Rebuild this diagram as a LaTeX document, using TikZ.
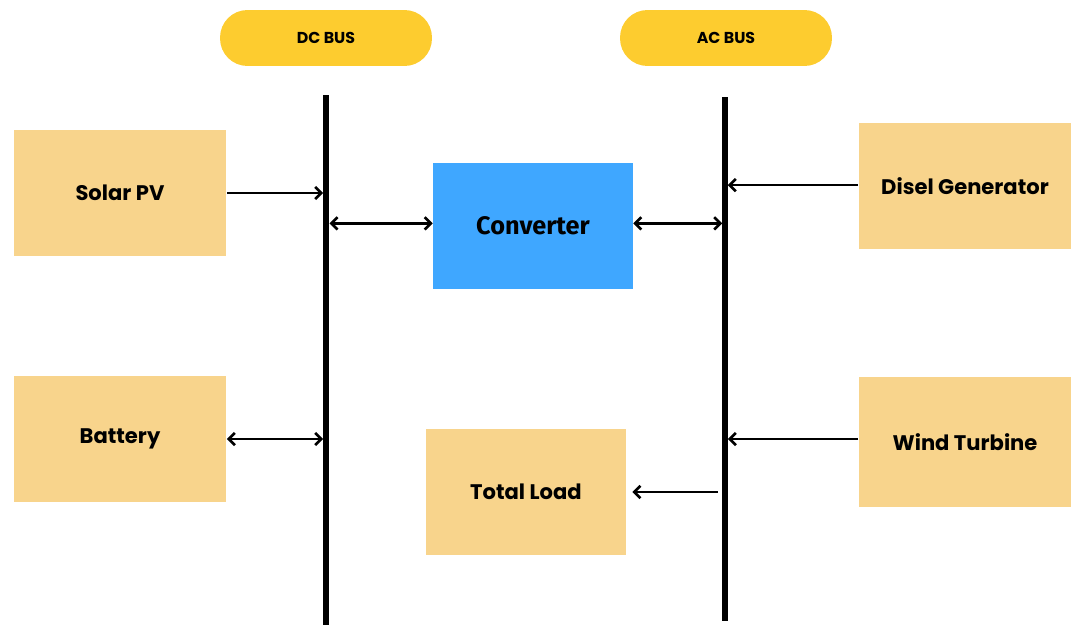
\documentclass[tikz,border=0pt]{standalone}
\usepackage{fontspec}
\setmainfont{Poppins}
\newfontfamily\convfont{Fira Sans}
\usetikzlibrary{arrows.meta}
\definecolor{busyellow}{HTML}{FDCC2F}
\definecolor{boxtan}{HTML}{F8D48C}
\definecolor{convblue}{HTML}{3FA7FF}
\tikzset{
  buspill/.style={fill=busyellow,rounded corners=0.55cm,minimum width=4.24cm,
    minimum height=1.12cm,font=\small\bfseries},
  srcbox/.style={fill=boxtan,minimum width=4.26cm,minimum height=2.54cm,
    font=\large\bfseries},
  busline/.style={line width=3.4pt},
  arr/.style={line width=1.5pt,-{Straight Barb[length=3.5pt,width=7pt]}},
  darr/.style={line width=1.5pt,{Straight Barb[length=3.5pt,width=7pt]}-{Straight Barb[length=3.5pt,width=7pt]}}
}
\begin{document}
\begin{tikzpicture}[x=0.02cm,y=-0.02cm]
  \useasboundingbox (0,0) rectangle (1075,626);
  % bus labels
  \node[buspill] (dcbus) at (326,38) {DC BUS};
  \node[buspill] (acbus) at (726,38) {AC BUS};
  % bus bars
  \coordinate (dctop) at (326,95);
  \coordinate (dcbot) at (326,625);
  \coordinate (actop) at (725,97);
  \coordinate (acbot) at (725,621);
  \draw[busline] (dctop) -- (dcbot);
  \draw[busline] (actop) -- (acbot);
  % blocks
  \node[srcbox] (solar) at (120,193) {Solar PV};
  \node[srcbox] (battery) at (120,439) {Battery};
  \node[srcbox] (diesel) at (965,186) {Disel Generator};
  \node[srcbox,minimum height=2.6cm] (wind) at (965,442) {Wind Turbine};
  \node[srcbox,minimum width=4cm] (load) at (526,492) {Total Load};
  \node[fill=convblue,minimum width=4cm,minimum height=2.54cm,
    font=\convfont\Large\bfseries] (conv) at (533,226) {Converter};
  % links
  \draw[arr] (solar.east) -- ([xshift=-1.6pt]solar.east -| dctop);
  \draw[darr] (battery.east) -- ([xshift=-1.6pt]battery.east -| dctop);
  \draw[darr] ([xshift=2pt,yshift=1.5pt]dctop |- conv.west) -- ([yshift=1.5pt]conv.west);
  \draw[darr] ([yshift=1.5pt]conv.east) -- ([xshift=-1.6pt,yshift=1.5pt]conv.east -| actop);
  \draw[arr] ([yshift=0.5pt]diesel.west) -- ([xshift=1.6pt,yshift=0.5pt]diesel.west -| actop);
  \draw[arr] ([yshift=1.7pt]wind.west) -- ([xshift=1.6pt,yshift=1.7pt]wind.west -| actop);
  \draw[arr] ([xshift=-4pt]load.east -| actop) -- ([xshift=3.5pt]load.east);
\end{tikzpicture}
\end{document}
